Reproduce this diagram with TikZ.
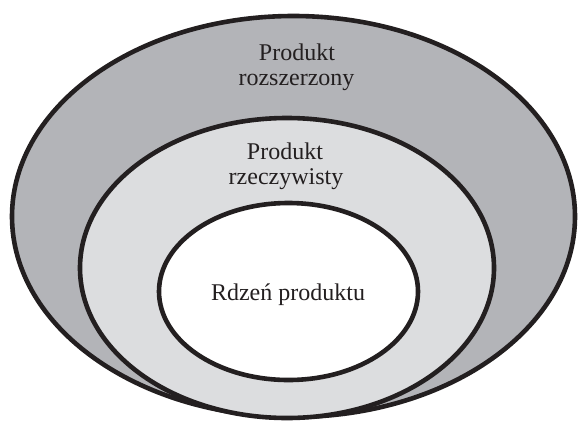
\documentclass[tikz,border=0pt]{standalone}
\usepackage{fontspec}
\setmainfont{Liberation Serif}
\definecolor{outergray}{RGB}{179,180,184}
\definecolor{midgray}{RGB}{220,221,223}
\definecolor{strokeblack}{RGB}{35,31,32}
\begin{document}
\begin{tikzpicture}[x=1pt,y=-1pt,
  ring/.style={draw=strokeblack,line width=4.6pt},
  lbl/.style={anchor=base,inner sep=0pt,font=\fontsize{24}{25}\selectfont,text=strokeblack}]
\useasboundingbox (0,0) rectangle (578,421);
\fill[white] (0,0) rectangle (578,421);
\draw[ring,fill=outergray] (293.5,216.5) ellipse [x radius=281.5, y radius=200.5];
\draw[ring,fill=midgray] (287,268) ellipse [x radius=207, y radius=150];
\draw[ring,fill=white] (288.5,291.5) ellipse [x radius=129.5, y radius=88.5];
\node[lbl] (ext1) at (297,60.7) {Produkt};
\node[lbl] (ext2) at (296.5,85.5) {rozszerzony};
\node[lbl] (act1) at (285,159) {Produkt};
\node[lbl] (act2) at (286,184) {rzeczywisty};
\node[lbl] (core) at (288,300) {Rdzeń produktu};
\end{tikzpicture}
\end{document}
